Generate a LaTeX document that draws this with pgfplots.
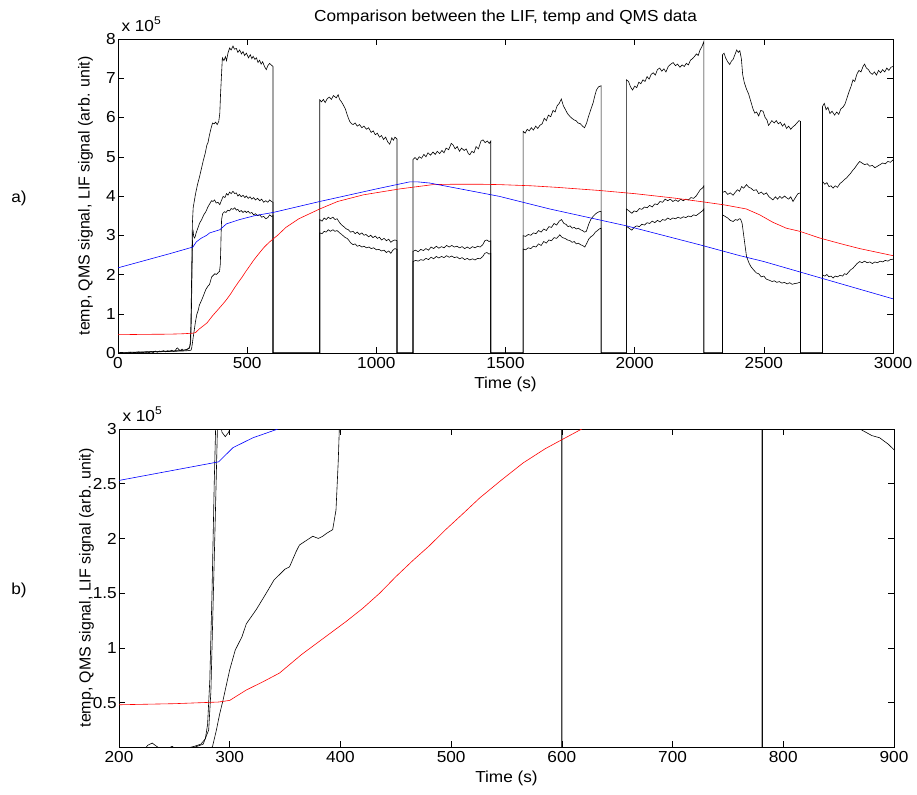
\documentclass[border=0pt]{standalone}
\usepackage{fontspec}
\setmainfont{Liberation Sans}[FakeStretch=1.08]
\newfontfamily\upright{Liberation Sans}
\usepackage{pgfplots}
\usepackage{pgfplotstable}
\pgfplotsset{compat=1.18}

% all signals in units of 1e5 (arb. unit); time in s
\pgfplotstableread{
t v
0 0.00
8 -0.03
16 0.01
24 -0.04
32 0.00
40 -0.02
48 0.02
56 -0.03
64 0.01
72 -0.01
80 0.03
88 0.00
96 0.02
104 -0.01
112 0.03
120 0.01
128 0.04
136 0.01
144 0.05
152 0.02
160 0.05
168 0.03
176 0.06
184 0.03
192 0.06
200 0.04
208 0.07
215 0.04
222 0.06
226 0.11
230 0.13
234 0.10
240 0.06
248 0.10
252 0.07
260 0.08
268 0.10
274 0.12
278 0.17
280 0.30
282 0.70
284 1.50
286 2.50
288 3.30
291 3.70
300 4.05
308 4.30
316 4.50
323 4.70
330 4.90
338 5.10
344 5.30
348 5.35
354 5.55
360 5.72
366 5.86
372 5.84
378 5.88
384 5.82
390 5.90
394 6.10
397 6.60
400 7.00
404 7.52
410 7.45
416 7.55
420 7.45
426 7.65
432 7.77
438 7.72
445 7.82
451 7.74
458 7.76
464 7.66
471 7.72
478 7.62
484 7.68
490 7.58
497 7.64
505 7.52
512 7.60
518 7.50
523 7.56
530 7.48
536 7.52
542 7.40
548 7.46
554 7.36
560 7.42
567 7.30
574 7.22
580 7.32
587 7.38
593 7.34
600 7.30
600 0
781 0
781 6.45
788 6.40
795 6.46
802 6.38
810 6.48
818 6.52
826 6.46
834 6.56
845 6.50
852 6.58
858 6.46
865 6.40
872 6.32
880 6.22
888 6.05
897 5.90
904 5.84
910 5.82
918 5.86
926 5.78
935 5.82
944 5.74
952 5.78
962 5.70
970 5.74
980 5.62
988 5.66
996 5.56
1004 5.60
1012 5.50
1020 5.54
1028 5.44
1036 5.50
1044 5.38
1052 5.32
1060 5.48
1066 5.42
1072 5.50
1080 5.45
1080 0
1142 0
1142 4.93
1150 4.98
1158 4.92
1166 5.00
1175 4.96
1184 5.06
1192 5.00
1200 5.10
1210 5.04
1219 5.12
1228 5.06
1236 5.14
1245 5.08
1254 5.16
1262 5.10
1270 5.22
1280 5.18
1290 5.34
1297 5.30
1305 5.20
1313 5.26
1322 5.14
1330 5.22
1340 5.16
1348 5.20
1356 5.08
1362 5.05
1370 5.14
1378 5.10
1386 5.26
1395 5.20
1405 5.40
1413 5.43
1421 5.36
1430 5.40
1437 5.34
1443 5.40
1443 0
1568 0
1568 5.65
1576 5.60
1584 5.70
1592 5.66
1600 5.74
1608 5.68
1617 5.78
1625 5.72
1633 5.80
1642 5.84
1650 5.98
1658 5.92
1666 6.06
1675 6.02
1684 6.18
1692 6.14
1700 6.30
1708 6.36
1716 6.47
1724 6.30
1732 6.20
1740 6.10
1749 6.03
1757 5.98
1765 5.94
1773 5.92
1781 5.86
1790 5.84
1798 5.78
1806 5.74
1814 5.86
1822 6.04
1830 6.20
1839 6.37
1846 6.56
1852 6.70
1860 6.78
1870 6.81
1870 0
1968 0
1968 6.96
1976 6.92
1984 6.78
1992 6.70
2000 6.80
2008 6.76
2016 6.90
2024 6.86
2032 6.96
2040 6.92
2048 7.04
2056 6.98
2064 7.10
2072 7.14
2080 7.08
2088 7.22
2097 7.26
2105 7.18
2113 7.24
2121 7.16
2130 7.30
2140 7.36
2149 7.40
2158 7.32
2166 7.36
2175 7.28
2184 7.34
2192 7.30
2200 7.38
2208 7.34
2216 7.46
2224 7.50
2232 7.56
2239 7.62
2246 7.58
2253 7.72
2260 7.80
2268 7.94
2268 0
2340 0
2340 7.60
2346 7.64
2352 7.52
2360 7.42
2368 7.35
2375 7.44
2381 7.48
2388 7.60
2395 7.72
2401 7.66
2407 7.70
2413 7.50
2418 7.10
2424 6.90
2433 6.72
2441 6.60
2450 6.40
2458 6.22
2465 6.11
2472 6.14
2480 6.04
2488 6.18
2497 6.16
2505 6.00
2512 5.94
2518 5.80
2523 5.84
2531 5.92
2540 5.86
2548 5.92
2556 5.84
2564 5.88
2572 5.78
2580 5.84
2588 5.72
2596 5.78
2604 5.70
2612 5.76
2620 5.80
2628 5.86
2636 5.92
2642 5.90
2642 0
2727 0
2727 6.28
2734 6.36
2741 6.20
2748 6.26
2756 6.10
2764 6.16
2774 6.06
2782 6.14
2790 6.08
2798 6.22
2806 6.26
2814 6.34
2822 6.50
2830 6.66
2838 6.80
2845 6.96
2852 6.92
2860 7.10
2868 7.20
2876 7.16
2884 7.30
2890 7.36
2897 7.26
2905 7.22
2912 7.14
2920 7.10
2928 7.16
2936 7.08
2944 7.20
2952 7.14
2960 7.22
2968 7.16
2976 7.26
2984 7.20
2992 7.28
3000 7.30
}\lifA

\pgfplotstableread{
t v
0 0.01
50 0.02
100 0.03
150 0.04
200 0.05
240 0.06
265 0.08
276 0.12
281 0.25
283 0.60
285 1.40
287 2.20
289 3.05
291 3.10
293 2.97
296 2.93
299 2.97
302 3.05
310 3.20
316 3.31
324 3.40
332 3.52
340 3.60
348 3.72
355 3.80
362 3.88
368 3.86
374 3.90
380 3.82
387 3.84
394 3.78
400 3.88
407 3.99
414 3.96
420 4.06
426 4.02
432 4.10
438 4.06
445 4.12
452 4.06
458 4.08
464 4.00
470 4.04
477 3.98
484 4.02
491 3.96
497 4.00
504 3.94
511 3.98
518 3.92
525 3.96
532 3.90
540 3.94
549 3.88
556 3.92
564 3.84
572 3.88
580 3.84
587 3.90
594 3.86
600 3.84
600 0
781 0
781 3.40
790 3.36
798 3.44
806 3.40
814 3.46
822 3.42
832 3.46
840 3.40
848 3.42
858 3.32
866 3.26
874 3.22
884 3.16
892 3.14
900 3.08
910 3.10
918 3.04
926 3.08
935 3.02
944 3.06
952 3.00
960 3.02
970 2.96
978 3.00
987 2.94
996 2.98
1004 2.92
1012 2.95
1020 2.88
1030 2.92
1039 2.86
1048 2.90
1056 2.82
1064 2.86
1072 2.88
1080 2.86
1080 0
1142 0
1142 2.59
1152 2.62
1162 2.58
1172 2.64
1182 2.61
1192 2.66
1202 2.62
1212 2.70
1222 2.66
1232 2.72
1242 2.67
1252 2.71
1262 2.68
1272 2.74
1282 2.70
1292 2.74
1302 2.70
1312 2.72
1322 2.68
1332 2.71
1342 2.66
1352 2.70
1362 2.66
1372 2.71
1382 2.68
1392 2.72
1402 2.70
1412 2.76
1420 2.86
1428 2.88
1436 2.84
1443 2.86
1443 0
1568 0
1568 2.99
1578 2.97
1588 3.02
1598 3.00
1608 3.06
1618 3.04
1628 3.12
1638 3.08
1648 3.16
1658 3.12
1668 3.22
1678 3.20
1688 3.30
1698 3.26
1708 3.36
1717 3.40
1726 3.30
1734 3.28
1742 3.22
1750 3.24
1758 3.18
1766 3.20
1774 3.16
1782 3.18
1790 3.14
1798 3.12
1806 3.08
1813 3.10
1822 3.28
1830 3.40
1839 3.48
1848 3.54
1856 3.58
1863 3.60
1870 3.61
1870 0
1968 0
1968 3.67
1978 3.62
1989 3.56
1998 3.62
2008 3.60
2018 3.68
2028 3.66
2038 3.72
2048 3.70
2058 3.76
2068 3.72
2078 3.80
2088 3.78
2098 3.86
2108 3.84
2118 3.92
2128 3.88
2138 3.92
2148 3.86
2158 3.90
2168 3.86
2178 3.92
2188 3.88
2198 3.92
2208 3.90
2218 3.96
2228 3.94
2238 4.00
2246 4.08
2254 4.16
2262 4.20
2268 4.26
2268 0
2340 0
2340 4.09
2350 4.12
2360 4.04
2370 4.08
2381 4.02
2390 4.10
2398 4.16
2406 4.12
2414 4.24
2422 4.20
2433 4.29
2442 4.22
2450 4.20
2460 4.14
2471 4.16
2480 4.06
2490 4.10
2500 4.04
2510 4.08
2520 3.98
2528 3.94
2535 3.90
2545 3.98
2553 3.92
2562 3.99
2570 3.94
2580 4.00
2587 3.96
2596 3.92
2604 3.98
2613 3.86
2622 3.96
2632 4.06
2642 4.08
2642 0
2727 0
2727 4.37
2736 4.30
2744 4.34
2752 4.24
2760 4.26
2768 4.20
2776 4.26
2785 4.22
2795 4.32
2803 4.36
2812 4.42
2820 4.46
2828 4.52
2836 4.58
2845 4.66
2853 4.72
2861 4.80
2871 4.88
2880 4.84
2890 4.80
2900 4.82
2910 4.76
2920 4.78
2930 4.72
2940 4.76
2950 4.80
2960 4.84
2970 4.82
2980 4.88
2990 4.86
3000 4.92
}\lifB

\pgfplotstableread{
t v
0 0.00
50 0.01
100 0.02
150 0.03
200 0.04
250 0.05
270 0.06
282 0.07
284.5 0.10
288 0.25
291 0.40
293.7 0.51
300 0.80
305 0.98
311 1.10
315 1.22
324 1.35
333 1.50
340 1.62
345 1.67
350 1.72
354 1.74
360 1.88
363 1.94
369 1.98
375 2.02
380 2.00
384 2.02
388 2.05
393 2.08
396 2.26
398 2.70
399 3.00
401 3.40
405 3.55
412 3.60
418 3.58
425 3.64
432 3.62
438 3.68
445 3.66
452 3.70
458 3.64
464 3.66
470 3.60
477 3.63
484 3.58
491 3.62
497 3.58
504 3.61
511 3.56
518 3.58
525 3.52
532 3.55
540 3.50
549 3.52
556 3.46
564 3.48
572 3.42
580 3.45
587 3.52
594 3.48
600 3.50
600 0
781 0
781 3.06
790 3.04
798 3.10
806 3.08
814 3.14
822 3.10
832 3.14
840 3.10
848 3.12
858 3.06
866 3.02
871 2.99
880 2.94
887 2.92
895 2.86
900 2.81
910 2.76
918 2.78
926 2.72
935 2.74
944 2.70
952 2.72
962 2.68
972 2.70
980 2.66
990 2.68
1000 2.63
1010 2.64
1020 2.60
1030 2.62
1039 2.56
1048 2.60
1056 2.54
1064 2.62
1072 2.66
1080 2.64
1080 0
1142 0
1142 2.33
1152 2.36
1162 2.34
1172 2.38
1182 2.36
1192 2.41
1202 2.38
1212 2.44
1222 2.40
1232 2.46
1242 2.42
1252 2.46
1262 2.43
1272 2.48
1282 2.44
1292 2.47
1302 2.43
1312 2.45
1322 2.40
1332 2.43
1342 2.38
1352 2.41
1362 2.37
1372 2.40
1382 2.37
1392 2.41
1402 2.40
1412 2.46
1420 2.54
1428 2.56
1436 2.52
1443 2.54
1443 0
1568 0
1568 2.65
1578 2.63
1588 2.68
1598 2.66
1608 2.72
1618 2.70
1628 2.78
1638 2.74
1648 2.84
1658 2.80
1668 2.88
1678 2.86
1688 2.94
1698 2.92
1710 3.01
1720 2.94
1730 2.92
1740 2.88
1750 2.86
1758 2.82
1766 2.84
1774 2.78
1782 2.80
1790 2.76
1798 2.74
1807 2.70
1815 2.80
1822 2.90
1830 2.96
1839 3.00
1848 3.08
1856 3.12
1863 3.16
1870 3.18
1870 0
1968 0
1968 3.23
1978 3.18
1989 3.13
1998 3.20
2008 3.24
2018 3.22
2028 3.28
2038 3.26
2048 3.32
2058 3.30
2068 3.36
2078 3.32
2088 3.38
2098 3.34
2108 3.40
2118 3.38
2128 3.44
2138 3.40
2148 3.44
2158 3.42
2168 3.46
2178 3.43
2188 3.47
2198 3.45
2208 3.49
2218 3.47
2228 3.52
2238 3.50
2246 3.54
2254 3.58
2262 3.62
2268 3.67
2268 0
2340 0
2340 3.52
2350 3.48
2360 3.44
2370 3.38
2381 3.35
2390 3.40
2398 3.38
2405 3.42
2410 3.41
2416 3.30
2422 3.00
2428 2.70
2433 2.46
2442 2.30
2450 2.20
2460 2.12
2471 2.04
2480 2.02
2490 1.94
2500 1.96
2510 1.88
2523 1.85
2532 1.82
2540 1.84
2550 1.80
2560 1.82
2570 1.78
2580 1.80
2590 1.76
2600 1.79
2610 1.75
2620 1.77
2630 1.78
2642 1.81
2642 0
2727 0
2727 1.99
2736 1.96
2744 2.00
2752 1.94
2760 1.96
2768 1.91
2776 1.96
2785 1.94
2795 1.98
2805 1.96
2812 2.02
2820 2.00
2828 2.06
2836 2.12
2845 2.16
2853 2.22
2861 2.28
2871 2.33
2880 2.30
2890 2.34
2900 2.30
2910 2.32
2920 2.28
2930 2.32
2940 2.30
2950 2.34
2960 2.32
2970 2.36
2980 2.34
2990 2.38
3000 2.39
}\lifC

\pgfplotstableread{
t v
0 0.466
100 0.475
200 0.48
250 0.49
290 0.505
300 0.52
315 0.615
330 0.69
345 0.77
365 0.94
385 1.09
405 1.24
420 1.36
435.5 1.50
450 1.65
465.6 1.80
480 1.93
495 2.08
510 2.22
525.8 2.37
545 2.53
565 2.69
585 2.82
599.6 2.90
618 3.00
650 3.20
700 3.42
781 3.67
850 3.86
950 4.03
1090 4.18
1219 4.29
1300 4.30
1400 4.30
1477 4.29
1600 4.26
1700 4.22
1865 4.14
2000 4.06
2150 3.95
2265 3.85
2350 3.77
2432 3.67
2484 3.52
2535 3.33
2587 3.18
2639 3.10
2716 2.93
2800 2.78
2871 2.66
3000 2.48
}\temp

\pgfplotstableread{
t v
0 2.17
200 2.53
290 2.70
303 2.83
321 2.92
343.6 3.00
355 3.06
394 3.14
420 3.29
471 3.40
530 3.50
600 3.58
781 3.86
1000 4.18
1129 4.36
1160 4.36
1207 4.33
1477 3.99
1671 3.67
1968 3.24
2250 2.76
2407 2.48
2432 2.44
2500 2.33
3000 1.38
}\qms

\begin{document}
\begin{tikzpicture}[font=\fontsize{16}{19}\selectfont]
\useasboundingbox (0,0) rectangle (917bp,-795bp);
\pgfplotsset{
  panel/.style={
    scale only axis,
    width=775bp,
    anchor=north west,
    axis line style={black, line width=0.6pt},
    tick style={black, line width=0.5pt},
    major tick length=6bp,
    /pgf/number format/assume math mode=true,
    /pgf/number format/1000 sep={},
    yticklabel style={inner xsep=2bp},
    xticklabel style={yshift=-1bp},
    xlabel={Time (s)},
    ylabel={temp, QMS signal, LIF signal (arb. unit)},
    ylabel style={at={(axis description cs:-0.042,0.5)}, anchor=center,
      font=\upright\fontsize{16}{19}\selectfont},
    every axis plot/.append style={line width=0.6pt},
  },
}
\begin{axis}[panel, name=top, at={(118bp,-39bp)}, height=314bp,
  xmin=0, xmax=3000, ymin=0, ymax=8,
  xtick={0,500,...,3000}, ytick={0,1,...,8},
  yticklabels={0,1,2,3,4,5,6,7,8},
  xlabel style={at={(axis description cs:0.5,-0.099)}, anchor=center},
  title={Comparison between the LIF, temp and QMS data},
  title style={at={(axis description cs:0.5,1.038)}, anchor=base},
]
\addplot[black] table {\lifA};
\addplot[black] table {\lifB};
\addplot[black] table {\lifC};
\addplot[red] table {\temp};
\addplot[blue] table {\qms};
\end{axis}

\begin{axis}[panel, name=bot, at={(119bp,-429bp)}, height=318bp,
  xmin=200, xmax=900, ymin=0.094, ymax=3,
  xtick={200,300,...,900}, ytick={0.5,1,1.5,2,2.5,3},
  yticklabels={0.5,1,1.5,2,2.5,3},
  xlabel style={at={(axis description cs:0.5,-0.0975)}, anchor=center},
]
\addplot[black] table {\lifA};
\addplot[black] table {\lifB};
\addplot[black] table {\lifC};
\addplot[red] table {\temp};
\addplot[blue] table {\qms};
\end{axis}

\node[anchor=base west] at ([yshift=8bp]top.north west) {x 10\textsuperscript{5}};
\node[anchor=base west] at ([yshift=8bp]bot.north west) {x 10\textsuperscript{5}};
\node at (19bp,-198bp) {a)};
\node at (19bp,-590bp) {b)};
\end{tikzpicture}
\end{document}
